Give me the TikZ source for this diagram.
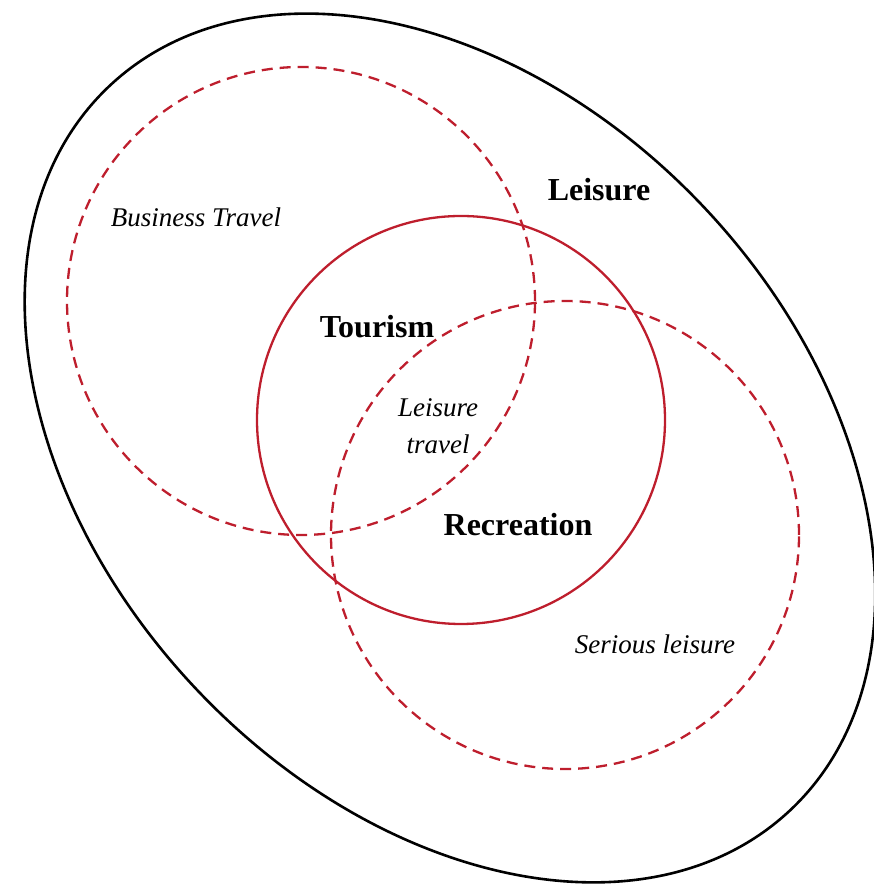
\documentclass[tikz,border=0pt]{standalone}
\usepackage{fontspec}
\setmainfont{Liberation Serif}
\usepackage{xcolor}
\usetikzlibrary{positioning}
\definecolor{tourred}{HTML}{BE1E2D}

\begin{document}
\begin{tikzpicture}[x=0.5pt,y=0.5pt,
  ring/.style={draw=tourred, line width=1.15pt},
  dashring/.style={ring, dash pattern=on 5.5pt off 3.5pt},
  mainlbl/.style={font=\fontsize{16}{18}\selectfont\bfseries},
  sublbl/.style={font=\fontsize{13.5}{18.5}\selectfont\itshape, align=center}]
\useasboundingbox (0,0) rectangle (873,887);
% centres
\coordinate (leis) at (450,439);
\coordinate (bus)  at (301,586);
\coordinate (tour) at (461,467);
\coordinate (ser)  at (565,352);

% sets
\draw[line width=1.3pt, rotate around={-46.8:(leis)}] (leis) ellipse [x radius=497, y radius=350];
\draw[dashring] (bus) circle [radius=234];
\draw[ring] (tour) circle [radius=204];
\draw[dashring] (ser) circle [radius=234];

% labels
\node[mainlbl] (leisure) at (599,697) {Leisure};
\node[sublbl] (business) at (196,670) {Business Travel};
\node[mainlbl] (tourism) at (377,560) {Tourism};
\node[sublbl] (travel) at (438,461) {Leisure\\travel};
\node[mainlbl] (recreation) at (518,362) {Recreation};
\node[sublbl] (serious) at (655,243) {Serious leisure};
\end{tikzpicture}
\end{document}
